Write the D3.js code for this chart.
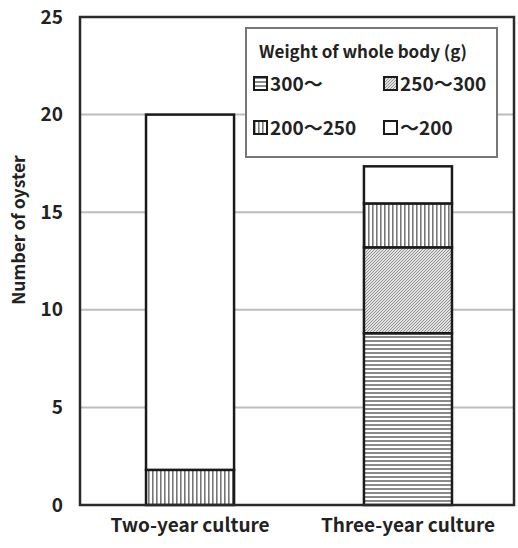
<!DOCTYPE html>
<html>
<head>
<meta charset="utf-8">
<script src="https://cdn.jsdelivr.net/npm/d3@7"></script>
<style>
  body { margin: 0; background: #fff; }
  text { font-family: "Noto Sans CJK JP", "Liberation Sans", sans-serif; fill: #222; }
</style>
</head>
<body>
<svg id="chart" width="518" height="548"></svg>
<script>
// data
const cultures = ["Two-year culture", "Three-year culture"];
const classes = ["300～", "250～300", "200～250", "～200"];
const count300 = [0, 8.8];
const count250 = [0, 4.4];
const count200 = [1.8, 2.25];
const countLow = [18.2, 1.9];
const yTicks = [0, 5, 10, 15, 20, 25];

let rows = cultures.map((c, i) => ({
  culture: c,
  "300～": count300[i],
  "250～300": count250[i],
  "200～250": count200[i],
  "～200": countLow[i]
}));

let svg = d3.select("#chart"),
    m = { left: 80, right: 4, top: 17, bottom: 43 },
    W = 518, H = 548;

let x = d3.scaleBand()
  .domain(cultures)
  .range([m.left, W])
  .paddingInner(0.596)
  .paddingOuter(0.303);

let y = d3.scaleLinear()
  .domain([0, 25])
  .range([H - m.bottom, m.top]);

// hatch patterns
let defs = svg.append("defs");

let pat = (id, size, draw) => {
  let p = defs.append("pattern")
    .attr("id", id)
    .attr("patternUnits", "userSpaceOnUse")
    .attr("width", size)
    .attr("height", size);
  p.append("rect").attr("width", size).attr("height", size).attr("fill", "#fff");
  draw(p);
};

pat("horiz", 4, p => p.append("rect").attr("y", 0).attr("width", 4).attr("height", 2).attr("fill", "#8a8a8a"));
pat("vert", 4, p => p.append("rect").attr("x", 0).attr("width", 1.6).attr("height", 4).attr("fill", "#777"));
pat("diag", 3, p => {
  p.select("rect").attr("fill", "#e2e2e2");
  p.append("path").attr("d", "M-1,1 l2,-2 M0,3 l3,-3 M2,4 l2,-2")
    .attr("stroke", "#888").attr("stroke-width", 0.9);
});

let fills = {
  "300～": "url(#horiz)",
  "250～300": "url(#diag)",
  "200～250": "url(#vert)",
  "～200": "#fff"
};

// gridlines
svg.append("g")
  .selectAll("line")
  .data(yTicks.filter(d => d > 0 && d < 25))
  .enter().append("line")
  .attr("x1", m.left).attr("x2", W - m.right)
  .attr("y1", d => y(d)).attr("y2", d => y(d))
  .attr("stroke", "#bdbdbd")
  .attr("stroke-width", 2);

// stacked bars
let stack = d3.stack().keys(classes)(rows);

let layers = svg.append("g").selectAll("g.layer")
  .data(stack)
  .enter().append("g")
  .classed("layer", true);

layers.selectAll("rect")
  .data(d => d.map(v => ({ key: d.key, v: v })))
  .enter().append("rect")
  .filter(d => d.v[1] - d.v[0] > 0)
  .attr("x", d => x(d.v.data.culture))
  .attr("width", x.bandwidth())
  .attr("y", d => y(d.v[1]))
  .attr("height", d => y(d.v[0]) - y(d.v[1]))
  .attr("fill", d => fills[d.key])
  .attr("stroke", "#1a1a1a")
  .attr("stroke-width", 2.5);

// frame
svg.append("rect")
  .attr("x", m.left).attr("y", m.top)
  .attr("width", W - m.right - m.left)
  .attr("height", H - m.bottom - m.top)
  .attr("fill", "none")
  .attr("stroke", "#2a2a2a")
  .attr("stroke-width", 2.5);

// y axis labels
let yAxis = d3.axisLeft(y).tickValues(yTicks).tickSize(0).tickPadding(17);
svg.append("g")
  .attr("transform", `translate(${m.left},0)`)
  .call(yAxis)
  .call(g => g.select(".domain").remove())
  .selectAll("text")
  .attr("font-size", 19)
  .attr("font-weight", "bold")
  .attr("font-family", "'Liberation Sans', sans-serif")
  .attr("fill", "#222");

// x axis labels
let xAxis = d3.axisBottom(x).tickSize(0).tickPadding(14);
svg.append("g")
  .attr("transform", `translate(0,${H - m.bottom})`)
  .call(xAxis)
  .call(g => g.select(".domain").remove())
  .selectAll("text")
  .attr("font-size", 19)
  .attr("font-family", "'Noto Sans CJK JP', sans-serif")
  .attr("font-weight", "bold")
  .attr("fill", "#222");

svg.append("text")
  .attr("transform", "translate(25,230) rotate(-90)")
  .attr("text-anchor", "middle")
  .attr("font-size", 17.5)
  .attr("font-weight", "bold")
  .text("Number of oyster");

// legend
let lg = svg.append("g").attr("transform", "translate(246,28)");
lg.append("rect")
  .attr("width", 251).attr("height", 129)
  .attr("fill", "#fff")
  .attr("stroke", "#777")
  .attr("stroke-width", 2);
lg.append("text")
  .attr("x", 13).attr("y", 30)
  .attr("font-size", 17)
  .attr("font-weight", "bold")
  .text("Weight of whole body (g)");

let items = lg.selectAll("g.item")
  .data(classes)
  .enter().append("g")
  .classed("item", true)
  .attr("transform", (d, i) => `translate(${i % 2 ? 138 : 8},${i < 2 ? 49 : 93})`);

items.append("rect")
  .attr("width", 13).attr("height", 13)
  .attr("fill", d => fills[d])
  .attr("stroke", "#1a1a1a")
  .attr("stroke-width", 2);

items.append("text")
  .attr("x", 16).attr("y", 13.5)
  .attr("font-size", 19)
  .attr("font-weight", "bold")
  .text(d => d);
</script>
</body>
</html>
